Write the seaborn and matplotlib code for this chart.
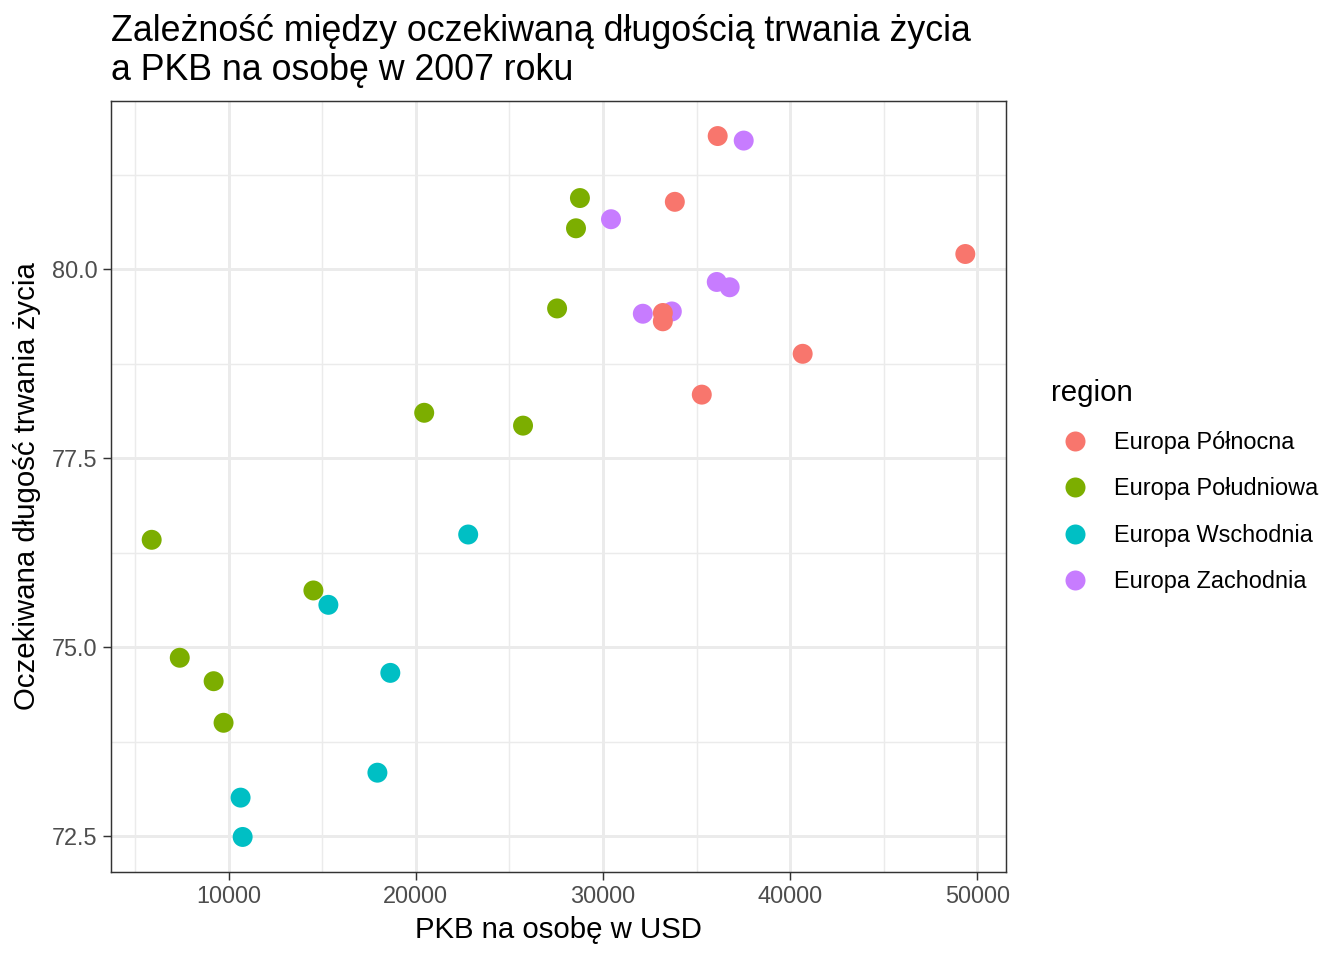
import matplotlib
matplotlib.use("Agg")
import matplotlib.pyplot as plt
import seaborn as sns
import pandas as pd
from matplotlib.ticker import MultipleLocator
from matplotlib.lines import Line2D

# --- data ---
regions = ["Europa Północna", "Europa Południowa", "Europa Wschodnia", "Europa Zachodnia"]
palette = ["#F8766D", "#7CAE00", "#00BFC4", "#C77CFF"]

west_gdp = [37520, 30430, 36080, 36770, 33680, 32130]
west_life = [81.70, 80.66, 79.83, 79.76, 79.44, 79.41]

south_gdp = [28770, 28560, 27550, 20450, 25730, 5890, 14530, 7390, 9200, 9730]
south_life = [80.94, 80.54, 79.48, 78.10, 77.93, 76.42, 75.75, 74.86, 74.55, 74.00]

east_gdp = [22800, 15330, 18640, 17950, 10640, 10750]
east_life = [76.49, 75.56, 74.66, 73.34, 73.01, 72.49]

north_gdp = [36130, 33840, 49360, 33200, 33200, 40670, 35280]
north_life = [81.76, 80.89, 80.20, 79.42, 79.31, 78.88, 78.34]

df = pd.concat([
    pd.DataFrame({"gdp": west_gdp, "life": west_life, "region": "Europa Zachodnia"}),
    pd.DataFrame({"gdp": south_gdp, "life": south_life, "region": "Europa Południowa"}),
    pd.DataFrame({"gdp": east_gdp, "life": east_life, "region": "Europa Wschodnia"}),
    pd.DataFrame({"gdp": north_gdp, "life": north_life, "region": "Europa Północna"}),
], ignore_index=True)

sns.set_style("white")
plt.rcParams["font.family"] = ["Liberation Sans", "DejaVu Sans"]
plt.rcParams["text.color"] = "black"
plt.rcParams["axes.labelcolor"] = "black"

fig = plt.figure(figsize=(7, 5), dpi=192)
ax = fig.add_axes([111 / 1344, 1 - 872 / 960, (1006 - 111) / 1344, (872 - 101) / 960])

sns.scatterplot(data=df, x="gdp", y="life", hue="region", hue_order=regions,
                palette=palette, s=56, linewidth=0, alpha=1, ax=ax, legend=False, zorder=3)

# ggplot-like 5% expansion
xr = max(df.gdp) - min(df.gdp)
yr = max(df.life) - min(df.life)
ax.set_xlim(min(df.gdp) - 0.05 * xr, max(df.gdp) + 0.05 * xr)
ax.set_ylim(min(df.life) - 0.05 * yr, max(df.life) + 0.05 * yr)

ax.xaxis.set_major_locator(MultipleLocator(10000))
ax.xaxis.set_minor_locator(MultipleLocator(5000))
ax.yaxis.set_major_locator(MultipleLocator(2.5))
ax.yaxis.set_minor_locator(MultipleLocator(1.25))
ax.yaxis.set_major_formatter(matplotlib.ticker.FormatStrFormatter("%.1f"))

ax.grid(True, which="major", color="#EBEBEB", linewidth=1.1)
ax.grid(True, which="minor", color="#EBEBEB", linewidth=0.55)
ax.set_axisbelow(True)
for sp in ax.spines.values():
    sp.set_color("#333333")
    sp.set_linewidth(0.55)

ax.tick_params(which="major", length=3, width=0.55, color="#333333",
               labelsize=8.8, labelcolor="#4D4D4D", pad=2, left=True, bottom=True)
ax.tick_params(which="minor", length=0)

ax.set_xlabel("PKB na osobę w USD", fontsize=11, labelpad=3)
ax.set_ylabel("Oczekiwana długość trwania życia", fontsize=11, labelpad=4)
ax.set_title("Zależność między oczekiwaną długością trwania życia\na PKB na osobę w 2007 roku",
             loc="left", fontsize=13.4, pad=8, linespacing=1.12)

handles = [Line2D([], [], marker="o", linestyle="", markersize=7.5,
                  markerfacecolor=c, markeredgewidth=0) for c in palette]
leg = fig.legend(handles, regions, title="region", loc="upper left",
                 bbox_to_anchor=(1042 / 1344, 1 - 370 / 960), frameon=False,
                 fontsize=8.8, title_fontsize=11, labelspacing=1.0,
                 handletextpad=0.65, borderaxespad=0)
leg._legend_box.align = "left"

fig.savefig("out.png", dpi=192)
